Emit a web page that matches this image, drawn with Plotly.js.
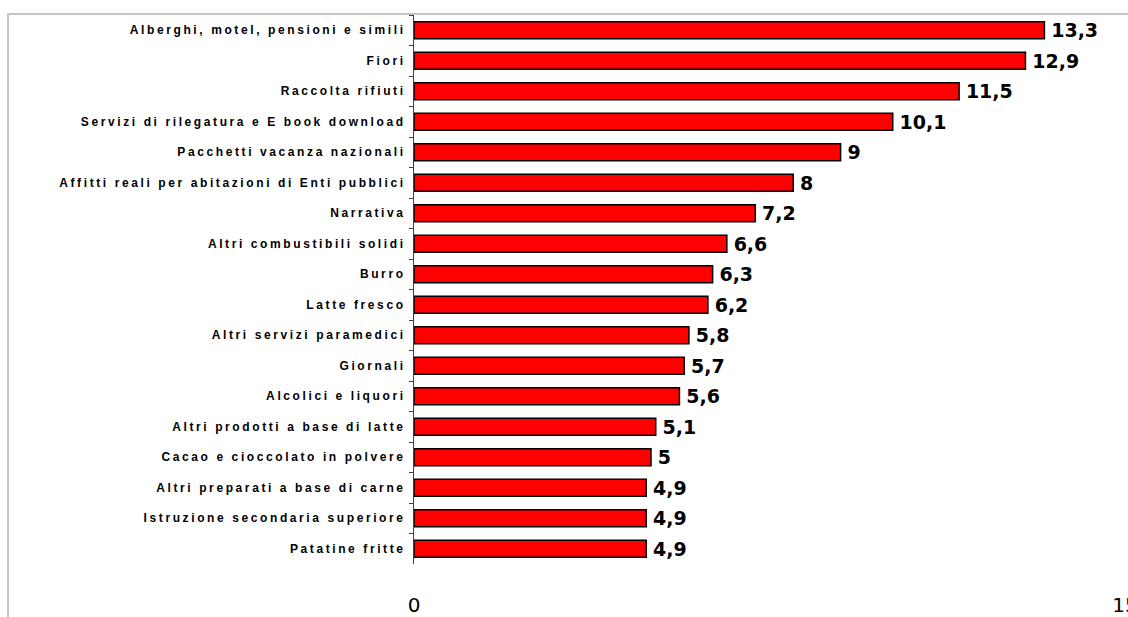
<!DOCTYPE html>
<html>
<head>
<meta charset="utf-8">
<script src="https://cdn.plot.ly/plotly-3.0.1.min.js"></script>
<style>
  html, body { margin: 0; padding: 0; background: #fff; }
  #chart { width: 1128px; height: 617px; }
  .ytick text { letter-spacing: 2.6px; }
</style>
</head>
<body>
<div id="chart"></div>
<script>
const categories = [
  "Alberghi, motel, pensioni e simili",
  "Fiori",
  "Raccolta rifiuti",
  "Servizi di rilegatura e E book download",
  "Pacchetti vacanza nazionali",
  "Affitti reali per abitazioni di Enti pubblici",
  "Narrativa",
  "Altri combustibili solidi",
  "Burro",
  "Latte fresco",
  "Altri servizi paramedici",
  "Giornali",
  "Alcolici e liquori",
  "Altri prodotti a base di latte",
  "Cacao e cioccolato in polvere",
  "Altri preparati a base di carne",
  "Istruzione secondaria superiore",
  "Patatine fritte"
];
const values = [13.3, 12.9, 11.5, 10.1, 9, 8, 7.2, 6.6, 6.3, 6.2, 5.8, 5.7, 5.6, 5.1, 5, 4.9, 4.9, 4.9];
const xTickVals = [0, 15];
const xTickText = ["0", "15"];

const labels = values.map(v => '\u2009' + String(v).replace('.', ','));

const trace = {
  type: 'bar',
  orientation: 'h',
  x: values,
  y: categories,
  text: labels,
  textposition: 'outside',
  constraintext: 'none',
  cliponaxis: false,
  textfont: { family: 'DejaVu Sans', size: 19, color: '#000', weight: 'bold' },
  marker: { color: '#ff0000', line: { color: '#000000', width: 1.5 } },
  hoverinfo: 'none'
};

const layout = {
  width: 1128,
  height: 617,
  margin: { l: 414, r: 3, t: 15, b: 53, pad: 0 },
  paper_bgcolor: '#ffffff',
  plot_bgcolor: '#ffffff',
  showlegend: false,
  bargap: 0.44,
  xaxis: {
    range: [0, 15],
    tickvals: xTickVals,
    ticktext: xTickText,
    showgrid: false,
    zeroline: false,
    showline: false,
    ticks: '',
    ticklabelstandoff: 27,
    ticklabeloverflow: 'allow',
    tickfont: { family: 'DejaVu Sans', size: 20, color: '#000' },
    fixedrange: true
  },
  yaxis: {
    autorange: 'reversed',
    showgrid: false,
    zeroline: false,
    showline: true,
    linecolor: '#404040',
    linewidth: 1,
    ticks: 'outside',
    tickson: 'boundaries',
    ticklen: 4,
    tickcolor: '#404040',
    tickwidth: 1,
    ticklabelstandoff: 5,
    tickfont: { family: 'Liberation Sans, Arial, sans-serif', size: 12, color: '#000', weight: 'bold' },
    fixedrange: true
  },
  shapes: [
    { type: 'line', xref: 'paper', yref: 'paper', x0: -0.571, x1: -0.571, y0: 1.0018, y1: -0.2,
      line: { color: '#c4c4c4', width: 2 } },
    { type: 'line', xref: 'paper', yref: 'paper', x0: -0.572, x1: 1.01, y0: 1.0018, y1: 1.0018,
      line: { color: '#c4c4c4', width: 2 } }
  ]
};

Plotly.newPlot('chart', [trace], layout, { displayModeBar: false, staticPlot: true });
</script>
</body>
</html>
